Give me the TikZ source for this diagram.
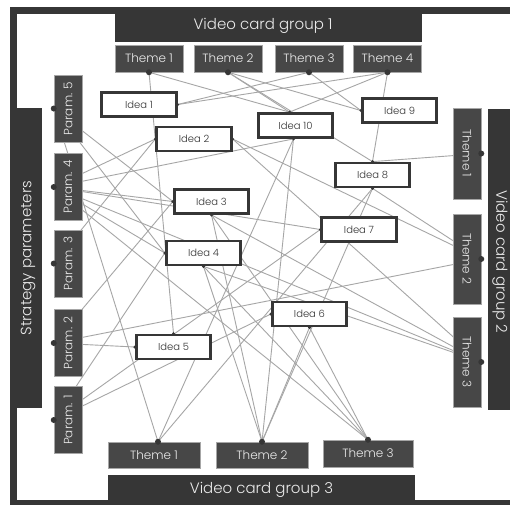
\documentclass[tikz,border=0pt]{standalone}
\usepackage{fontspec}
\IfFontExistsTF{Poppins Light}{\setmainfont{Poppins Light}}{\setmainfont{Poppins}}
\usetikzlibrary{calc}
\definecolor{dk}{HTML}{363636}
\definecolor{bx}{HTML}{474747}
\definecolor{ln}{HTML}{A6A6A6}
\definecolor{tx}{HTML}{EBEBEB}
\pgfdeclarelayer{back}
\pgfdeclarelayer{mid}
\pgfsetlayers{back,mid,main}
\tikzset{
  idea/.style={draw=dk, line width=2.8pt, fill=white, minimum width=74.5pt, minimum height=24pt, inner sep=0pt, font=\fontsize{10}{12}\selectfont, text=black!80},
  themebox/.style={fill=bx, draw=black!35, line width=0.5pt, inner sep=0pt, text=tx, font=\fontsize{12}{14}\selectfont},
  bartext/.style={text=tx, font=\fontsize{15}{17}\selectfont, inner sep=0pt},
  edge/.style={draw=ln, line width=0.9pt},
}
\begin{document}
\begin{tikzpicture}[x=1pt,y=-1pt]
\useasboundingbox (0,0) rectangle (510,504);
\begin{pgfonlayer}{back}
\clip (0,0) rectangle (510,504);
\fill[white] (0,0) rectangle (510,504);
\fill[dk] (10,7) rectangle (530,520);
\fill[white] (17,14) rectangle (512,500);
\fill[dk] (115,7) rectangle (422,42);
\fill[dk] (10,108) rectangle (42,408);
\fill[dk] (488,109) rectangle (530,410);
\fill[dk] (108,475) rectangle (415,510);
\end{pgfonlayer}
\node[bartext] (g1) at (263,26) {Video card group 1};
\node[bartext, rotate=90] (sp) at (28,258) {Strategy parameters};
\node[bartext, rotate=-90] (g2) at (500,262) {Video card group 2};
\node[bartext] (g3) at (261.5,490) {Video card group 3};
% top themes
\node[themebox, minimum width=68pt, minimum height=27pt] (tt1) at (149,58.5) {Theme 1};
\node[themebox, minimum width=68pt, minimum height=27pt] (tt2) at (228,58.5) {Theme 2};
\node[themebox, minimum width=68pt, minimum height=27pt] (tt3) at (309,58.5) {Theme 3};
\node[themebox, minimum width=68pt, minimum height=27pt] (tt4) at (387.5,58.5) {Theme 4};
% params
\node[themebox, rotate=90, minimum width=67pt, minimum height=28pt] (p5) at (68,108.5) {Param. 5};
\node[themebox, rotate=90, minimum width=67pt, minimum height=28pt] (p4) at (68,187) {Param. 4};
\node[themebox, rotate=90, minimum width=67pt, minimum height=28pt] (p3) at (68,263.5) {Param. 3};
\node[themebox, rotate=90, minimum width=67pt, minimum height=28pt] (p2) at (68,343) {Param. 2};
\node[themebox, rotate=90, minimum width=67pt, minimum height=28pt] (p1) at (68,420) {Param. 1};
% right themes
\node[themebox, rotate=-90, minimum width=91pt, minimum height=28pt] (rt1) at (467,153.5) {Theme 1};
\node[themebox, rotate=-90, minimum width=90pt, minimum height=28pt] (rt2) at (467,259) {Theme 2};
\node[themebox, rotate=-90, minimum width=90pt, minimum height=28pt] (rt3) at (467,362) {Theme 3};
% bottom themes
\node[themebox, minimum width=92pt, minimum height=26pt] (bt1) at (154,455) {Theme 1};
\node[themebox, minimum width=92pt, minimum height=26pt] (bt2) at (262,455) {Theme 2};
\node[themebox, minimum width=90pt, minimum height=27pt] (bt3) at (368,453.5) {Theme 3};
% ideas
\node[idea] (i1) at (139,104.5) {Idea 1};
\node[idea] (i2) at (194,139) {Idea 2};
\node[idea] (i10) at (295.5,125.5) {Idea 10};
\node[idea] (i9) at (399.5,110.5) {Idea 9};
\node[idea] (i3) at (211.5,201.5) {Idea 3};
\node[idea] (i4) at (203.5,253) {Idea 4};
\node[idea] (i7) at (359,229.5) {Idea 7};
\node[idea] (i6) at (309.5,314) {Idea 6};
\node[idea] (i5) at (173.5,347) {Idea 5};
\node[idea] (i8) at (372.5,175) {Idea 8};
\coordinate (i10n) at ($(i10.north)+(-6,0)$);
\coordinate (i10s) at ($(i10.south)+(-2,0)$);
\coordinate (bt1n) at ($(bt1.north)+(4,0)$);
\begin{pgfonlayer}{mid}
\foreach \a/\b in {tt1/i5.north, tt1/i10n, tt2/i10n, tt2/i8.north, tt2/i9.west, tt3/i1.east, tt3/i9.west, tt4/i1.east, tt4/i10n, tt4/i8.north}
  \draw[edge] (\a.south) -- (\b);
\foreach \a/\b in {p5/i3.west, p5/i4.west, p5/bt1n, p4/i2.west, p4/i10s, p4/i3.west, p4/i7.west, p4/i4.west, p4/rt3.north, p4/bt3.north, p3/i2.west, p2/i3.west, p2/i5.west, p2/rt2.north, p1/i4.west, p1/i7.west, p1/i6.west}
  \draw[edge] (\a.north) -- (\b);
\foreach \a/\b in {rt1/i8.north, rt2/i8.south, rt2/i2.east, rt3/i2.east, rt3/i3.south, rt3/i4.south}
  \draw[edge] (\a.north) -- (\b);
\foreach \a/\b in {bt1n/i10s, bt1n/i8.south, bt2.north/i10s, bt2.north/i8.south, bt2.north/i6.south, bt2.north/i3.south, bt2.north/i4.south, bt3.north/i6.south, bt3.north/i3.south, bt3.north/i4.south}
  \draw[edge] (\a) -- (\b);
\end{pgfonlayer}
% dots
\foreach \n in {tt1,tt2,tt3,tt4} \fill[dk] (\n.south) circle (3pt);
\foreach \n in {p1,p2,p3,p4,p5,rt1,rt2,rt3} \fill[dk] (\n.north) circle (3pt);
\foreach \n in {bt1n,bt2.north,bt3.north} \fill[dk] (\n) circle (3pt);
\foreach \n in {i1.east,i2.west,i2.east,i10n,i10s,i9.west,i3.west,i3.south,i4.west,i4.south,i7.west,i6.west,i6.south,i5.north,i5.west,i8.north,i8.south} \fill[dk] (\n) circle (1.6pt);
\end{tikzpicture}
\end{document}
